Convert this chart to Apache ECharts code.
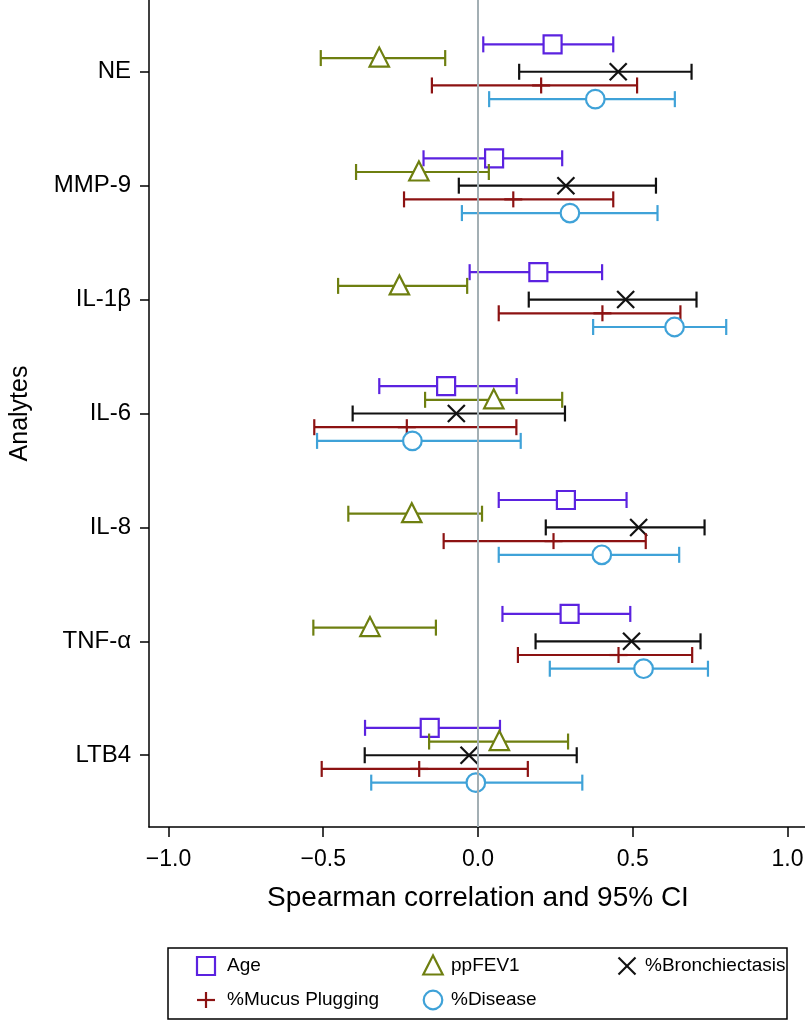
<!DOCTYPE html>
<html>
<head>
<meta charset="utf-8">
<script src="https://cdn.jsdelivr.net/npm/echarts@6/dist/echarts.min.js"></script>
<style>
html,body{margin:0;padding:0;background:#fff;}
#chart{width:805px;height:1021px;}
</style>
</head>
<body>
<div id="chart"></div>
<script>
// ---- data ----
const categories = ['NE', 'MMP-9', 'IL-1β', 'IL-6', 'IL-8', 'TNF-α', 'LTB4'];
const seriesNames = ['Age', 'ppFEV1', '%Bronchiectasis', '%Mucus Plugging', '%Disease'];
const xTickValues = [-1.0, -0.5, 0.0, 0.5, 1.0];

const ageEst = [0.241, 0.052, 0.195, -0.103, 0.284, 0.296, -0.156];
const ageLo  = [0.017, -0.176, -0.027, -0.319, 0.067, 0.079, -0.365];
const ageHi  = [0.437, 0.272, 0.401, 0.125, 0.480, 0.492, 0.071];

const ppFEV1Est = [-0.319, -0.191, -0.254, 0.051, -0.214, -0.349, 0.069];
const ppFEV1Lo  = [-0.508, -0.394, -0.452, -0.171, -0.419, -0.532, -0.158];
const ppFEV1Hi  = [-0.106, 0.035, -0.035, 0.272, 0.013, -0.136, 0.291];

const bronchEst = [0.453, 0.284, 0.477, -0.070, 0.519, 0.496, -0.029];
const bronchLo  = [0.133, -0.062, 0.164, -0.405, 0.219, 0.186, -0.366];
const bronchHi  = [0.690, 0.575, 0.706, 0.281, 0.732, 0.719, 0.319];

const mucusEst = [0.204, 0.114, 0.402, -0.230, 0.244, 0.454, -0.190];
const mucusLo  = [-0.149, -0.239, 0.067, -0.529, -0.111, 0.129, -0.505];
const mucusHi  = [0.514, 0.437, 0.654, 0.124, 0.542, 0.692, 0.161];

const diseaseEst = [0.379, 0.297, 0.635, -0.212, 0.400, 0.535, -0.007];
const diseaseLo  = [0.036, -0.052, 0.372, -0.520, 0.067, 0.232, -0.345];
const diseaseHi  = [0.636, 0.580, 0.802, 0.138, 0.650, 0.743, 0.337];

// ---- styling ----
const FONT = '"Liberation Sans", Arial, Helvetica, sans-serif';
const colors = ['#5b22e0', '#6e7f10', '#111111', '#8c1212', '#3fa2d8'];
const markers = ['square', 'triangle', 'cross', 'plus', 'circle'];
const est = [ageEst, ppFEV1Est, bronchEst, mucusEst, diseaseEst];
const lo = [ageLo, ppFEV1Lo, bronchLo, mucusLo, diseaseLo];
const hi = [ageHi, ppFEV1Hi, bronchHi, mucusHi, diseaseHi];
const STEP = 13.7;     // px offset between series within a category
const CAP = 8;         // half cap height
const LW = 2.2;

function markerEls(type, cx, cy, color) {
  const st = { stroke: color, lineWidth: LW, fill: '#fff' };
  const ls = { stroke: color, lineWidth: LW };
  switch (type) {
    case 'square':
      return [{ type: 'rect', shape: { x: cx - 9, y: cy - 9, width: 18, height: 18 }, style: st }];
    case 'triangle':
      return [{ type: 'polygon', shape: { points: [[cx, cy - 10.5], [cx - 9.7, cy + 8.5], [cx + 9.7, cy + 8.5]] }, style: st }];
    case 'cross':
      return [
        { type: 'line', shape: { x1: cx - 8.5, y1: cy - 8.5, x2: cx + 8.5, y2: cy + 8.5 }, style: ls },
        { type: 'line', shape: { x1: cx - 8.5, y1: cy + 8.5, x2: cx + 8.5, y2: cy - 8.5 }, style: ls }
      ];
    case 'plus':
      return [
        { type: 'line', shape: { x1: cx, y1: cy - CAP, x2: cx, y2: cy + CAP }, style: ls },
        { type: 'line', shape: { x1: cx - 9, y1: cy, x2: cx + 9, y2: cy }, style: ls }
      ];
    case 'circle':
      return [{ type: 'circle', shape: { cx: cx, cy: cy, r: 9.3 }, style: st }];
  }
  return [];
}

const series = seriesNames.map((name, k) => {
  const data = categories.map((c, i) => [lo[k][i], est[k][i], hi[k][i], i + 1]);
  const off = (k - 2) * STEP;
  const s = {
    name: name,
    type: 'custom',
    data: data,
    encode: { x: [0, 1, 2], y: 3 },
    renderItem: function (params, api) {
      const yv = api.value(3);
      const pL = api.coord([api.value(0), yv]);
      const pE = api.coord([api.value(1), yv]);
      const pH = api.coord([api.value(2), yv]);
      const y = pE[1] + off;
      const ls = { stroke: colors[k], lineWidth: LW };
      const children = [
        { type: 'line', shape: { x1: pL[0], y1: y, x2: pH[0], y2: y }, style: ls },
        { type: 'line', shape: { x1: pL[0], y1: y - CAP, x2: pL[0], y2: y + CAP }, style: ls },
        { type: 'line', shape: { x1: pH[0], y1: y - CAP, x2: pH[0], y2: y + CAP }, style: ls }
      ].concat(markerEls(markers[k], pE[0], y, colors[k]));
      return { type: 'group', children: children };
    }
  };
  if (k === seriesNames.length - 1) {
    s.markLine = {
      silent: true, symbol: 'none', animation: false,
      label: { show: false },
      lineStyle: { color: '#a3afb4', width: 2, type: 'solid' },
      emphasis: { disabled: true },
      data: [{ xAxis: 0 }]
    };
  }
  return s;
});

// ---- legend (drawn with graphic elements) ----
const legendPos = [
  { ix: 206, tx: 227, y: 966 },
  { ix: 433, tx: 451, y: 966 },
  { ix: 627, tx: 645, y: 966 },
  { ix: 206, tx: 227, y: 1000 },
  { ix: 433, tx: 451, y: 1000 }
];
const graphic = [{
  type: 'rect', shape: { x: 168, y: 948, width: 619, height: 71 },
  style: { fill: 'none', stroke: '#000', lineWidth: 1.5 }, silent: true
}];
seriesNames.forEach((name, k) => {
  const p = legendPos[k];
  markerEls(markers[k], p.ix, p.y, colors[k]).forEach(el => { el.silent = true; graphic.push(el); });
  graphic.push({
    type: 'text', silent: true,
    style: { x: p.tx, y: p.y, text: name, fill: '#000', font: '19px ' + FONT, textVerticalAlign: 'middle', verticalAlign: 'middle' }
  });
});

const yTickValues = categories.map((c, i) => i + 1);

const option = {
  animation: false,
  backgroundColor: '#fff',
  grid: { left: 149, right: -2, top: 0, bottom: 194, containLabel: false, outerBoundsMode: 'none' },
  xAxis: {
    type: 'value', min: -1.063, max: 1.063, position: 'bottom',
    axisLine: { show: true, onZero: false, lineStyle: { color: '#000', width: 1.5 } },
    axisTick: { show: true, customValues: xTickValues, length: 10, lineStyle: { color: '#000', width: 1.5 } },
    axisLabel: {
      customValues: xTickValues, color: '#000', fontSize: 23, fontFamily: FONT, margin: 21,
      formatter: v => (v < 0 ? '\u2212' : '') + Math.abs(v).toFixed(1)
    },
    splitLine: { show: false },
    name: 'Spearman correlation and 95% CI', nameLocation: 'middle', nameGap: 57,
    nameTextStyle: { color: '#000', fontSize: 28, fontFamily: FONT }
  },
  yAxis: {
    type: 'value', inverse: true, min: 0.37, max: 7.63,
    axisLine: { show: true, onZero: false, lineStyle: { color: '#000', width: 1.5 } },
    axisTick: { show: true, customValues: yTickValues, length: 9, lineStyle: { color: '#000', width: 1.5 } },
    axisLabel: {
      customValues: yTickValues, color: '#000', fontSize: 24, fontFamily: FONT, margin: 18,
      formatter: v => categories[Math.round(v) - 1]
    },
    splitLine: { show: false },
    name: 'Analytes', nameLocation: 'middle', nameRotate: 90, nameGap: 116,
    nameTextStyle: { color: '#000', fontSize: 25, fontFamily: FONT }
  },
  graphic: graphic,
  series: series
};

const chart = echarts.init(document.getElementById('chart'), null, { renderer: 'canvas' });
chart.setOption(option);
</script>
</body>
</html>
